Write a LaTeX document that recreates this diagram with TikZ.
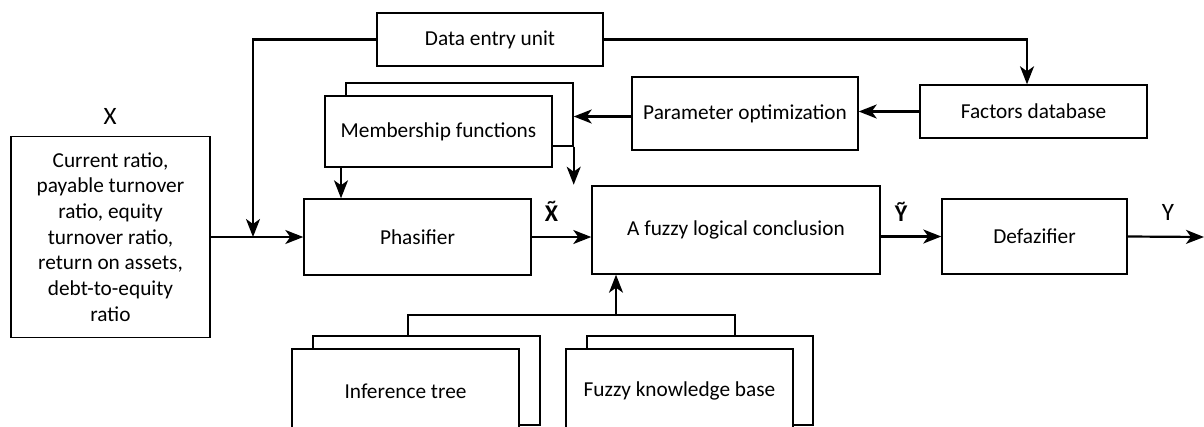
\documentclass[tikz,border=0pt]{standalone}
\usepackage{fontspec}
\setmainfont{Carlito}
\usetikzlibrary{arrows.meta}
\newcommand{\tildelbl}[1]{\ooalign{#1\cr\hidewidth\raisebox{13.5pt}{\fontsize{17}{20}\selectfont\textasciitilde}\hidewidth\cr}}
\begin{document}
\begin{tikzpicture}[x=1pt,y=-1pt,
  box/.style={draw, line width=1.4pt, fill=white, inner sep=0pt, align=center,
    font=\fontsize{21.3}{25.7}\selectfont},
  conn/.style={line width=2.2pt},
  arr/.style={conn, -{Stealth[length=18pt,width=14pt,inset=5pt]}},
  lbl/.style={inner sep=0pt, anchor=base, font=\fontsize{25}{30}\selectfont},
  tlbl/.style={inner sep=0pt, anchor=base, font=\fontsize{24}{30}\selectfont\bfseries}]
\useasboundingbox (0,0) rectangle (1204,426);
\clip (0,0) rectangle (1204,426);
% boxes
\node[box, minimum width=226, minimum height=53] (data) at (490,39.5) {Data entry unit};
\node[box, minimum width=227, minimum height=53] (factors) at (1033.5,111.5) {Factors database};
\node[box, minimum width=226, minimum height=73] (param) at (745,113.5) {Parameter optimization};
\node[box, minimum width=227, minimum height=63] (mb) at (459.5,114.5) {};
\node[box, minimum width=227, minimum height=71] (mf) at (438.5,131.5) {Membership functions};
\node[box, minimum width=199, minimum height=201] (input) at (110.5,237) {Current ratio,\\payable turnover\\ratio, equity\\turnover ratio,\\return on assets,\\debt-to-equity\\ratio};
\node[box, minimum width=227, minimum height=76] (phas) at (417.5,237) {Phasifier};
\node[box, minimum width=288, minimum height=88] (fuzzy) at (736,230) {A fuzzy logical conclusion};
\node[box, minimum width=185, minimum height=75] (defaz) at (1034.5,236.5) {Defazifier};
\node[box, minimum width=227, minimum height=89] (inb) at (426.5,380.5) {};
\node[box, minimum width=227, minimum height=84] (inf) at (405.5,391) {Inference tree};
\node[box, minimum width=226, minimum height=89] (kbb) at (700,380.5) {};
\node[box, minimum width=227, minimum height=84] (kb) at (679.5,391) {Fuzzy knowledge base};
% labels
\node[lbl] (lx) at (110,124) {X};
\node[tlbl] (lxt) at (551.5,221) {\tildelbl{X}};
\node[tlbl] (lyt) at (901,221.5) {\tildelbl{Y}};
\node[lbl] (ly) at (1168,220) {Y};
% coordinates
\coordinate (j) at (253,237);
\coordinate (jb) at (616,316);
\coordinate (out) at (1204,237);
% connectors
\draw[arr] (data.west) -| (j);
\draw[arr] (input.east) -- (phas.west);
\draw[arr] (data.east) -| ([xshift=-6.5pt]factors.north);
\draw[arr] (factors.west) -- (factors.west -| param.east);
\draw[arr] ([yshift=-3pt]param.west) -- ([yshift=-3pt]param.west -| mb.east);
\draw[arr] ([xshift=-97.5pt]mf.south) -- ([xshift=-97.5pt]mf.south |- phas.north);
\draw[arr] (mb.south east) -- ++(0,38);
\draw[conn] ([xshift=-18.5pt]inb.north) -- ++(0,-20) -| ([xshift=35pt]kbb.north);
\draw[arr] (jb) -- (jb |- fuzzy.south);
\draw[arr] (phas.east) -- (phas.east -| fuzzy.west);
\draw[arr] (defaz.west -| fuzzy.east) -- (defaz.west);
\draw[arr] (defaz.east) -- (out);
\end{tikzpicture}
\end{document}
